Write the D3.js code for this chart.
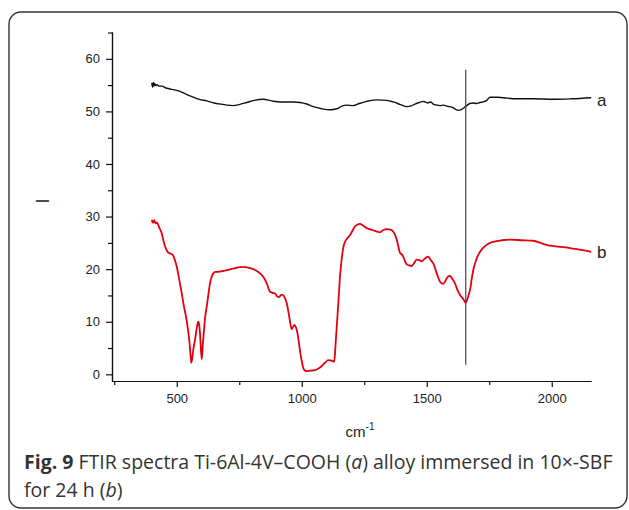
<!DOCTYPE html>
<html lang="en">
<head>
<meta charset="UTF-8"/>
<title>FTIR spectra</title>
<script src="https://d3js.org/d3.v7.min.js"></script>
<style>
  body { margin: 0; background: #fff; }
  svg text { font-family: "Liberation Sans", Arial, sans-serif; }
  svg text.caption { font-family: "Open Sans", "Noto Sans", sans-serif; fill: #333; }
</style>
</head>
<body>
<script>
// wavenumber (cm-1) and intensity for curve a (Ti-6Al-4V-COOH)
var waveA = [400,403,406,409,412,416,420,430,440,460,480,500,513,540,566,590,620,650,673,700,726,750,780,810,846,880,913,966,994,1020,1046,1080,1113,1130,1146,1160,1180,1206,1230,1260,1300,1340,1366,1395,1420,1440,1453,1470,1486,1493,1505,1515,1526,1540,1553,1566,1580,1600,1626,1640,1660,1672,1686,1700,1713,1726,1740,1753,1780,1806,1860,1926,2006,2080,2158];
var valA  = [55.4,54.6,55.5,54.8,55.3,54.9,55.1,54.8,54.8,54.4,54.2,54.0,53.8,53.2,52.7,52.3,52.0,51.6,51.4,51.2,51.1,51.3,51.7,52.1,52.3,52.0,51.8,51.8,51.7,51.4,50.9,50.5,50.3,50.4,50.6,51.0,51.2,51.1,51.5,51.9,52.2,52.1,51.8,51.3,50.9,51.1,51.4,51.7,51.9,51.8,51.6,51.8,51.4,51.2,51.1,51.2,51.0,50.8,50.2,50.4,51.1,51.5,51.6,51.5,51.7,51.8,52.1,52.7,52.7,52.6,52.4,52.4,52.3,52.4,52.6];

// curve b (immersed in 10x-SBF for 24 h)
var waveB = [400,405,410,415,420,430,440,448,456,465,473,484,492,500,510,520,530,537,545,550,555,558,562,567,573,580,586,590,593,597,600,604,609,614,620,626,633,640,646,655,666,680,700,725,753,775,793,815,833,848,860,873,883,893,902,909,918,924,932,940,948,955,960,965,971,977,983,990,996,1000,1006,1013,1020,1035,1053,1073,1093,1106,1120,1130,1135,1140,1147,1153,1160,1167,1173,1183,1193,1203,1213,1223,1233,1245,1260,1285,1305,1313,1325,1340,1355,1366,1373,1380,1386,1393,1400,1406,1413,1420,1430,1440,1450,1460,1470,1480,1490,1500,1506,1515,1526,1540,1553,1560,1566,1575,1585,1593,1603,1613,1623,1633,1645,1656,1663,1668,1673,1680,1686,1696,1706,1716,1726,1745,1766,1800,1833,1880,1926,1960,1986,2046,2100,2158];
var valB  = [29.4,28.8,29.3,28.7,28.9,27.9,26.8,25.2,24.0,23.2,23.0,22.7,21.8,20.5,18.0,15.4,12.6,11.0,8.5,6.5,3.8,2.2,3.0,5.0,6.5,8.8,10.0,9.3,7.8,4.5,2.9,5.5,8.4,11.0,12.9,15.0,17.3,18.6,19.2,19.5,19.5,19.6,19.8,20.1,20.4,20.4,20.2,19.8,19.2,18.4,17.3,15.7,15.5,15.4,14.8,14.7,15.1,15.1,14.6,13.5,11.5,9.5,8.6,9.0,9.4,8.9,7.8,5.5,3.5,2.5,1.2,0.7,0.6,0.7,0.8,1.3,2.2,2.7,2.6,2.4,5.5,9.1,14.0,18.6,22.0,24.3,25.2,25.9,26.5,27.3,28.1,28.5,28.6,28.3,27.8,27.4,27.1,27.0,27.4,27.6,27.5,27.1,26.5,25.6,24.4,23.1,22.8,22.4,21.5,20.9,20.7,20.6,21.2,21.8,21.7,21.5,21.9,22.3,22.4,21.8,21.1,19.2,17.6,17.3,17.2,17.8,18.6,18.7,18.1,17.3,16.0,15.1,14.4,13.6,14.3,15.2,16.0,18.2,19.8,21.5,22.7,23.5,24.1,24.8,25.2,25.5,25.6,25.5,25.4,24.9,24.5,24.2,23.8,23.3];

var xMajor = [500,1000,1500,2000];
var xMinor = [250,750,1250,1750];
var yMajor = [0,10,20,30,40,50,60];
var yMinor = [5,15,25,35,45,55,65];
var markerX = 1656, markerY = [57.9, 1.8];

var w = 629, h = 510;
var svg = d3.select("body").append("svg")
    .attr("width", w).attr("height", h);

// rounded frame
svg.append("rect")
    .attr("x", 9).attr("y", 12)
    .attr("width", 618).attr("height", 496)
    .attr("rx", 12).attr("ry", 12)
    .attr("fill", "none").attr("stroke", "#333").attr("stroke-width", 1.4);

var xScale = d3.scaleLinear().domain([241, 2157]).range([112, 591]);
var yScale = d3.scaleLinear().domain([-1.27, 65.1]).range([381, 32]);

//------------axes-------------
svg.append("g").attr("transform", "translate(0,381)")
    .call(d3.axisBottom(xScale).tickValues(xMajor).tickFormat(d3.format("d"))
        .tickSize(6).tickPadding(7).tickSizeOuter(0));
svg.append("g").attr("transform", "translate(0,381)")
    .call(d3.axisBottom(xScale).tickValues(xMinor).tickSize(4).tickFormat("").tickSizeOuter(0));
svg.append("g").attr("transform", "translate(112,0)")
    .call(d3.axisLeft(yScale).tickValues(yMajor).tickFormat(d3.format("d"))
        .tickSize(6).tickPadding(6).tickSizeOuter(0));
svg.append("g").attr("transform", "translate(112,0)")
    .call(d3.axisLeft(yScale).tickValues(yMinor).tickSize(4).tickFormat("").tickSizeOuter(0));

svg.selectAll("g").attr("font-family", null);
svg.selectAll(".domain, .tick line").attr("stroke", "#111").attr("stroke-width", 1.2);
svg.selectAll(".tick text").attr("font-size", 13).attr("fill", "#222");

//------------lines-------------
var line = d3.line()
    .x(function(d) { return xScale(d[0]); })
    .y(function(d) { return yScale(d[1]); })
    .curve(d3.curveMonotoneX);

svg.append("path")
    .datum(d3.zip(waveA, valA))
    .attr("d", line).attr("fill", "none")
    .attr("stroke", "#111").attr("stroke-width", 1.4);

svg.append("path")
    .datum(d3.zip(waveB, valB))
    .attr("d", line).attr("fill", "none")
    .attr("stroke", "#e3000f").attr("stroke-width", 1.8);

// vertical marker
svg.append("line")
    .attr("x1", xScale(markerX)).attr("x2", xScale(markerX))
    .attr("y1", yScale(markerY[0])).attr("y2", yScale(markerY[1]))
    .attr("stroke", "#444").attr("stroke-width", 1.2);

// curve labels
svg.append("text").attr("x", 597).attr("y", 106).attr("font-size", 17).attr("fill", "#222").text("a");
svg.append("text").attr("x", 597).attr("y", 258).attr("font-size", 17).attr("fill", "#222").text("b");

// axis titles
svg.append("text")
    .attr("transform", "translate(49,201) rotate(-90)")
    .attr("text-anchor", "middle").attr("font-size", 18).attr("fill", "#222")
    .text("I");
var xt = svg.append("text")
    .attr("x", 360).attr("y", 437).attr("text-anchor", "middle")
    .attr("font-size", 15).attr("fill", "#222");
xt.append("tspan").text("cm");
xt.append("tspan").attr("dy", -7).attr("font-size", 10).text("-1");

// caption
var c1 = svg.append("text").attr("class", "caption").attr("x", 24).attr("y", 469).attr("font-size", 19.5);
c1.append("tspan").attr("font-weight", "bold").text("Fig. 9");
c1.append("tspan").text(" FTIR spectra Ti-6Al-4V\u2013COOH (");
c1.append("tspan").attr("font-style", "italic").text("a");
c1.append("tspan").text(") alloy immersed in 10\u00d7-SBF");
var c2 = svg.append("text").attr("class", "caption").attr("x", 24).attr("y", 497).attr("font-size", 19.5);
c2.append("tspan").text("for 24 h (");
c2.append("tspan").attr("font-style", "italic").text("b");
c2.append("tspan").text(")");
</script>
</body>
</html>
